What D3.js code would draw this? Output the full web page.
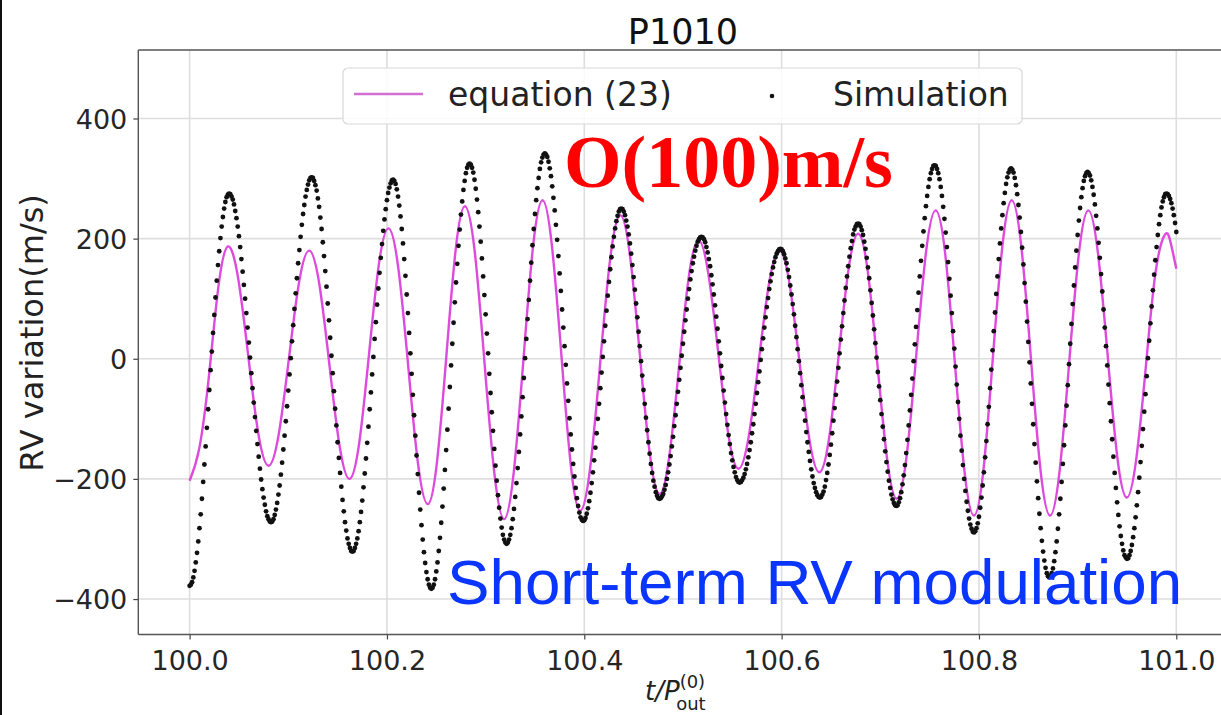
<!DOCTYPE html>
<html>
<head>
<meta charset="utf-8">
<script src="https://cdn.jsdelivr.net/npm/d3@7"></script>
<style>
  html, body { margin: 0; padding: 0; background: #fff; }
  svg { display: block; }
  text { font-family: "DejaVu Sans", sans-serif; }
</style>
</head>
<body>
<svg id="chart" width="1221" height="715"></svg>
<script>
// ---------------- data ----------------
const chartTitle = "P1010";
const seriesNames = ["equation (23)", "Simulation"];
const xTicks = [100.0, 100.2, 100.4, 100.6, 100.8, 101.0];
const yTicks = [-400, -200, 0, 200, 400];

// Simulation: evenly sampled from t = 100.0 to t = 101.0 (values in m/s)
const simStart = 100.0, simEnd = 101.0;
const simRV = [
-378,
-376,-372,-364,-353,-339,-323,-304,-282,-259,-233,-205,-176,-146,-115,-84,-52,-19,12,43,73,102,130,156,179,201,220,236,250,261,269,273,275,
274,270,265,257,246,234,220,204,186,166,145,123,100,76,52,27,2,-24,-49,-73,-97,-120,-142,-163,-183,-201,-217,-231,-243,-254,-262,-267,-271,-272,
-271,-267,-260,-251,-240,-226,-211,-193,-173,-151,-128,-104,-79,-53,-26,1,29,56,83,109,134,159,181,203,223,241,256,270,281,290,297,301,302,
301,296,289,280,267,253,235,216,194,171,146,120,92,64,35,5,-24,-54,-83,-111,-139,-165,-190,-213,-235,-254,-272,-286,-299,-308,-315,-320,-321,
-320,-315,-308,-299,-287,-272,-255,-236,-214,-191,-166,-140,-113,-84,-56,-26,3,33,61,90,117,143,168,191,213,232,249,264,276,285,292,297,298,
296,291,282,270,255,237,216,192,166,138,107,76,43,9,-25,-60,-94,-128,-161,-192,-223,-251,-277,-301,-322,-340,-355,-367,-376,-381,-383,
-381,-376,-367,-354,-339,-320,-298,-273,-246,-216,-185,-152,-118,-83,-47,-11,25,60,94,127,158,188,215,240,262,281,296,309,318,323,325,
323,318,310,298,283,265,244,220,195,167,137,106,74,42,9,-25,-57,-89,-120,-150,-178,-203,-227,-248,-266,-281,-293,-301,-306,-308,
-306,-301,-293,-282,-267,-250,-230,-207,-182,-155,-126,-96,-64,-32,1,33,66,98,130,160,189,216,241,264,284,301,316,327,335,340,342,
340,336,328,317,304,287,268,247,223,198,171,142,113,82,52,21,-10,-41,-70,-99,-126,-151,-175,-196,-215,-232,-245,-256,-264,-268,-270,
-269,-265,-258,-249,-237,-223,-207,-189,-169,-148,-124,-100,-75,-49,-23,3,29,55,80,105,128,149,169,187,203,217,229,238,245,249,250,
249,245,239,230,220,207,192,175,156,136,115,92,69,45,21,-4,-28,-52,-75,-98,-119,-139,-158,-175,-190,-203,-213,-222,-228,-232,-233,
-232,-229,-225,-218,-210,-200,-189,-176,-162,-146,-130,-112,-94,-75,-55,-35,-15,5,25,45,64,82,100,116,132,146,159,170,180,188,195,199,202,203,
202,199,194,186,177,166,154,139,124,107,89,70,50,29,9,-12,-32,-53,-73,-92,-110,-127,-142,-157,-169,-180,-189,-197,-202,-205,-206,
-205,-202,-198,-192,-184,-175,-164,-152,-139,-124,-109,-92,-75,-57,-39,-21,-2,16,34,52,69,86,101,116,129,141,152,161,169,175,179,182,183,
182,179,174,167,159,148,136,122,107,91,74,55,36,16,-4,-24,-44,-64,-84,-103,-122,-139,-155,-170,-184,-196,-207,-215,-222,-227,-230,-231,
-230,-226,-221,-213,-202,-190,-176,-160,-143,-124,-103,-82,-60,-38,-15,9,32,54,76,97,118,137,154,170,184,196,207,215,220,224,225,
224,220,214,206,195,183,168,152,134,114,93,72,49,26,2,-22,-46,-69,-92,-113,-134,-154,-172,-188,-203,-215,-226,-234,-240,-244,-245,
-244,-239,-232,-222,-209,-194,-177,-157,-135,-111,-86,-60,-33,-4,24,53,81,110,137,163,188,212,234,254,271,286,299,309,316,321,322,
321,316,309,299,286,271,253,233,210,186,161,133,105,76,46,17,-13,-43,-72,-100,-128,-153,-177,-200,-220,-238,-253,-266,-276,-283,-288,-289,
-287,-282,-274,-263,-248,-231,-211,-189,-164,-137,-109,-80,-49,-18,14,46,77,108,137,166,192,217,239,259,276,291,302,310,315,317,
315,310,301,289,274,256,235,211,185,157,126,95,62,28,-6,-41,-75,-109,-142,-173,-204,-232,-258,-282,-303,-321,-336,-348,-357,-362,-364,
-362,-357,-349,-337,-322,-304,-283,-259,-233,-205,-175,-144,-111,-78,-44,-9,25,58,91,122,152,180,206,230,251,269,284,296,304,309,311,
309,305,297,286,273,257,238,217,193,168,141,112,82,52,21,-11,-43,-74,-104,-134,-163,-190,-215,-239,-260,-279,-295,-308,-319,-327,-331,-333,
-332,-327,-320,-310,-297,-282,-264,-244,-222,-198,-172,-145,-117,-88,-59,-29,1,30,59,87,114,140,164,186,206,224,239,252,262,269,274,275,
274,271,266,259,250,239,226,211
];

// equation (23): read at key times (t / P_out)
const eqT = [
100.0000,100.0097,100.0195,100.0292,100.0389,
100.0492,100.0595,100.0697,100.0800,
100.0903,100.1007,100.1110,100.1213,
100.1315,100.1417,100.1519,100.1621,
100.1720,100.1819,100.1917,100.2016,
100.2116,100.2216,100.2315,100.2415,
100.2509,100.2603,100.2696,100.2790,
100.2890,100.2989,100.3089,100.3188,
100.3285,100.3383,100.3480,100.3577,
100.3672,100.3768,100.3863,100.3958,
100.4060,100.4161,100.4263,100.4364,
100.4464,100.4563,100.4663,100.4762,
100.4861,100.4960,100.5058,100.5157,
100.5258,100.5360,100.5461,100.5562,
100.5666,100.5770,100.5874,100.5978,
100.6079,100.6181,100.6282,100.6383,
100.6482,100.6581,100.6679,100.6778,
100.6875,100.6973,100.7070,100.7167,
100.7266,100.7365,100.7463,100.7562,
100.7659,100.7756,100.7853,100.7950,
100.8046,100.8141,100.8237,100.8332,
100.8429,100.8526,100.8623,100.8720,
100.8817,100.8914,100.9011,100.9108,
100.9205,100.9303,100.9400,100.9497,
100.9594,100.9692,100.9789,100.9886,
100.9943,101.0000
];
const eqRV = [
-203,-150,-30,120,187,
134,4,-125,-178,
-126,1,128,180,
124,-10,-144,-200,
-139,9,156,217,
150,-13,-175,-242,
-169,6,181,254,
178,-7,-191,-267,
-189,-2,186,264,
188,6,-177,-253,
-181,-7,167,239,
171,7,-157,-225,
-163,-14,135,197,
141,7,-127,-183,
-130,-2,127,180,
126,-5,-135,-189,
-131,10,150,208,
143,-13,-168,-233,
-163,7,177,247,
173,-7,-187,-261,
-184,2,187,264,
187,2,-184,-261,
-187,-7,173,247,
177,8,-161,-231,
-167,-12,143,207,
193,150
];

const annotRed = "O(100)m/s";
const annotBlue = "Short-term RV modulation";

// ---------------- drawing ----------------
const svg = d3.select("#chart");
const W = 1221, H = 715;
const plot = { left: 138.3, top: 50, bottom: 634.5 };

svg.append("rect").attr("width", W).attr("height", H).attr("fill", "#fff");
svg.append("rect").attr("x", 0).attr("y", 0).attr("width", 2).attr("height", H).attr("fill", "#111");

const x = d3.scaleLinear().domain([99.948, 101.052]).range([plot.left, plot.left + 1.104 * 986.7]);
const y = d3.scaleLinear().domain([-459, 514]).range([plot.bottom, plot.top]);

svg.append("defs").append("clipPath").attr("id", "clip")
  .append("rect").attr("x", plot.left).attr("y", plot.top)
  .attr("width", W - plot.left).attr("height", plot.bottom - plot.top);

// grid
const grid = svg.append("g");
grid.selectAll("line.gx").data(xTicks).join("line")
  .attr("x1", d => x(d)).attr("x2", d => x(d))
  .attr("y1", plot.top).attr("y2", plot.bottom)
  .attr("stroke", "#dedede").attr("stroke-width", 1.6);
grid.selectAll("line.gy").data(yTicks).join("line")
  .attr("x1", plot.left).attr("x2", W)
  .attr("y1", d => y(d)).attr("y2", d => y(d))
  .attr("stroke", "#dedede").attr("stroke-width", 1.6);

// axes
const xAxis = svg.append("g").attr("transform", `translate(0,${plot.bottom})`)
  .call(d3.axisBottom(x).tickValues(xTicks).tickFormat(d3.format(".1f")).tickSize(5).tickPadding(6));
const yAxis = svg.append("g").attr("transform", `translate(${plot.left},0)`)
  .call(d3.axisLeft(y).tickValues(yTicks).tickFormat(d3.format("d")).tickSize(5).tickPadding(6));
[xAxis, yAxis].forEach(g => {
  g.select(".domain").remove();
  g.selectAll(".tick line").attr("stroke", "#444").attr("stroke-width", 1.2);
  g.selectAll(".tick text").attr("fill", "#262626")
    .style("font-family", "DejaVu Sans").style("font-size", "27px");
});
xAxis.selectAll(".tick text").attr("dy", "0.9em");
yAxis.selectAll(".tick text").attr("dy", "0.36em");

// spines
svg.append("line").attr("x1", plot.left).attr("x2", plot.left).attr("y1", plot.top).attr("y2", plot.bottom)
  .attr("stroke", "#555").attr("stroke-width", 1.4);
svg.append("line").attr("x1", plot.left).attr("x2", W).attr("y1", plot.top).attr("y2", plot.top)
  .attr("stroke", "#555").attr("stroke-width", 1.4);
svg.append("line").attr("x1", plot.left).attr("x2", W).attr("y1", plot.bottom).attr("y2", plot.bottom)
  .attr("stroke", "#555").attr("stroke-width", 1.4);

// series
const g = svg.append("g").attr("clip-path", "url(#clip)");
const eqData = eqT.map((t, i) => ({ t, v: eqRV[i] }));
const line = d3.line().x(d => x(d.t)).y(d => y(d.v)).curve(d3.curveNatural);
g.append("path").datum(eqData).attr("d", line)
  .attr("fill", "none").attr("stroke", "#dd4add").attr("stroke-width", 2.4);

const simStep = (simEnd - simStart) / (simRV.length - 1);
const simData = simRV.map((v, i) => ({ t: simStart + i * simStep, v }));
g.selectAll("circle.sim").data(simData).join("circle")
  .attr("cx", d => x(d.t)).attr("cy", d => y(d.v)).attr("r", 2.4).attr("fill", "#111");

// title
svg.append("text").attr("x", (plot.left + x(101.052)) / 2).attr("y", 44)
  .attr("text-anchor", "middle").style("font-size", "35px").attr("fill", "#111").text(chartTitle);

// axis labels
svg.append("text").attr("transform", "translate(43,333) rotate(-90)")
  .attr("text-anchor", "middle").style("font-size", "32px").attr("fill", "#222").text("RV variation(m/s)");
const xl = svg.append("text").attr("x", 645).attr("y", 700).attr("fill", "#222").style("font-size", "26px");
xl.append("tspan").style("font-style", "italic").text("t/P");
xl.append("tspan").attr("dy", -12).style("font-size", "18px").text("(0)");
xl.append("tspan").attr("dx", -29).attr("dy", 22).style("font-size", "18px").text("out");

// legend
const lg = svg.append("g");
lg.append("rect").attr("x", 343).attr("y", 68).attr("width", 679).attr("height", 56).attr("rx", 5)
  .attr("fill", "#fff").attr("fill-opacity", 0.85).attr("stroke", "#d8d8d8").attr("stroke-width", 1.2);
lg.append("line").attr("x1", 354).attr("x2", 423).attr("y1", 94).attr("y2", 94)
  .attr("stroke", "#d36fd3").attr("stroke-width", 2.6);
lg.append("text").attr("x", 448).attr("y", 106).style("font-size", "33px").attr("fill", "#222").text(seriesNames[0]);
lg.append("circle").attr("cx", 772).attr("cy", 96).attr("r", 2.3).attr("fill", "#111");
lg.append("text").attr("x", 833).attr("y", 106).style("font-size", "33px").attr("fill", "#222").text(seriesNames[1]);

// annotations
svg.append("text").attr("x", 564).attr("y", 187)
  .style("font-family", "'Liberation Serif', serif").style("font-weight", "bold").style("font-size", "74px")
  .attr("fill", "#ff0000").text(annotRed);
svg.append("text").attr("x", 447).attr("y", 604)
  .style("font-family", "'Liberation Sans', sans-serif").style("font-size", "63.7px")
  .attr("fill", "#0a35ff").text(annotBlue);
</script>
</body>
</html>
